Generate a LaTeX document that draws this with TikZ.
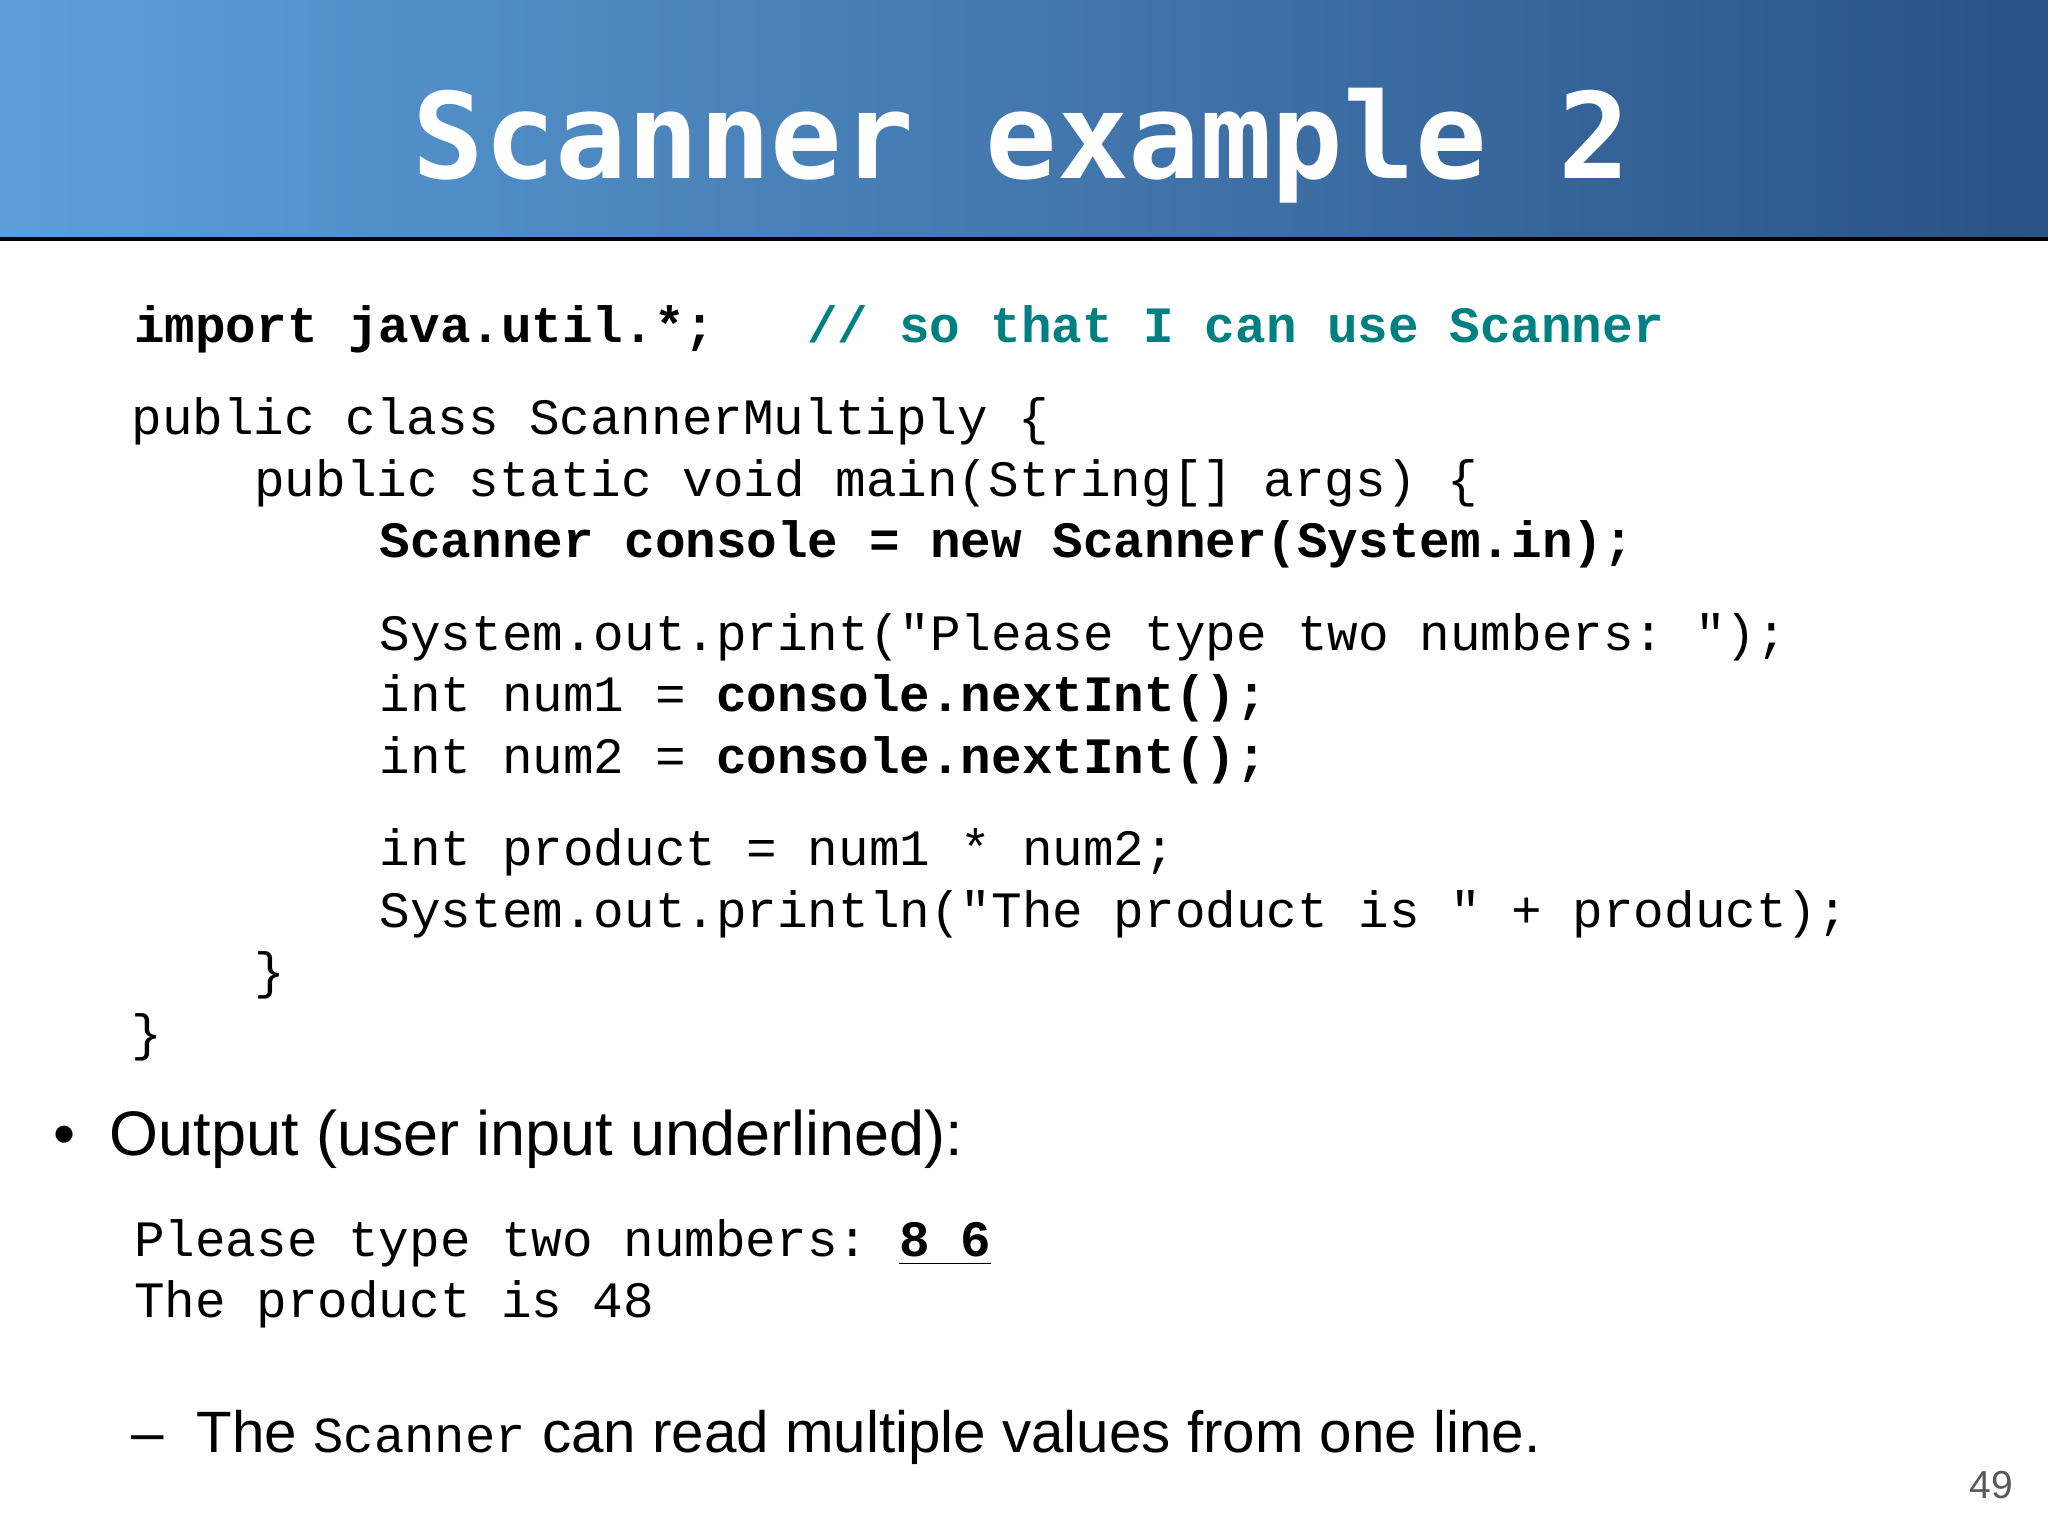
\documentclass[tikz,border=0pt]{standalone}
\usepackage{fontspec}
\setmainfont{Liberation Sans}
\setmonofont{Liberation Mono}
\newfontfamily\titlefont{DejaVu Sans Mono}
\definecolor{hdrL}{RGB}{92,158,218}
\definecolor{hdrR}{RGB}{42,82,132}
\definecolor{teal}{RGB}{0,128,128}
\begin{document}
\begin{tikzpicture}[x=0.01cm,y=-0.01cm,
  code/.style={anchor=base west,inner sep=0,font=\ttfamily\fontsize{11.1}{13}\selectfont},
  prose/.style={anchor=base west,inner sep=0,font=\fontsize{13.7}{16}\selectfont}]
\useasboundingbox (0,0) rectangle (1568,1176);
\shade[left color=hdrL,right color=hdrR] (0,0) rectangle (1568,183);
\draw[line width=0.8pt] (0,183) -- (1568,183);
\node[anchor=base,inner sep=0,text=white,font=\titlefont\bfseries\fontsize{25.9}{30}\selectfont] (title) at (782,137) {Scanner example 2};
\node[code] (l1) at (102,262) {\bfseries import java.util.*;\ \ \ \textcolor{teal}{// so that I can use Scanner}};
\node[code] (l2) at (100,333) {public class ScannerMultiply \{};
\node[code] (l3) at (194,380) {public static void main(String[] args) \{};
\node[code] (l4) at (290,427) {\bfseries Scanner console = new Scanner(System.in);};
\node[code] (l5) at (290,498) {System.out.print("Please type two numbers: ");};
\node[code] (l6) at (290,545) {int num1 = \textbf{console.nextInt();}};
\node[code] (l7) at (290,592) {int num2 = \textbf{console.nextInt();}};
\node[code] (l8) at (290,663) {int product = num1 * num2;};
\node[code] (l9) at (290,710) {System.out.println("The product is " + product);};
\node[code] (l10) at (194,757) {\}};
\node[code] (l11) at (100,804) {\}};
\node[prose] (out) at (40,885) {\textbullet\hspace{0.55em}Output (user input underlined):};
\node[code] (o1) at (102,962) {Please type two numbers: \textbf{\underline{8 6}}};
\node[code] (o2) at (102,1009) {The product is 48};
\node[prose,font=\fontsize{12.7}{15}\selectfont] (d) at (100,1112) {–};
\node[prose,font=\fontsize{12.7}{15}\selectfont] (d2) at (150,1112) {The {\ttfamily\fontsize{11.0}{13}\selectfont Scanner} can read multiple values from one line.};
\node[anchor=base east,inner sep=0,text=black!65,font=\fontsize{8.5}{10}\selectfont] (pg) at (1542,1147) {49};
\end{tikzpicture}
\end{document}
